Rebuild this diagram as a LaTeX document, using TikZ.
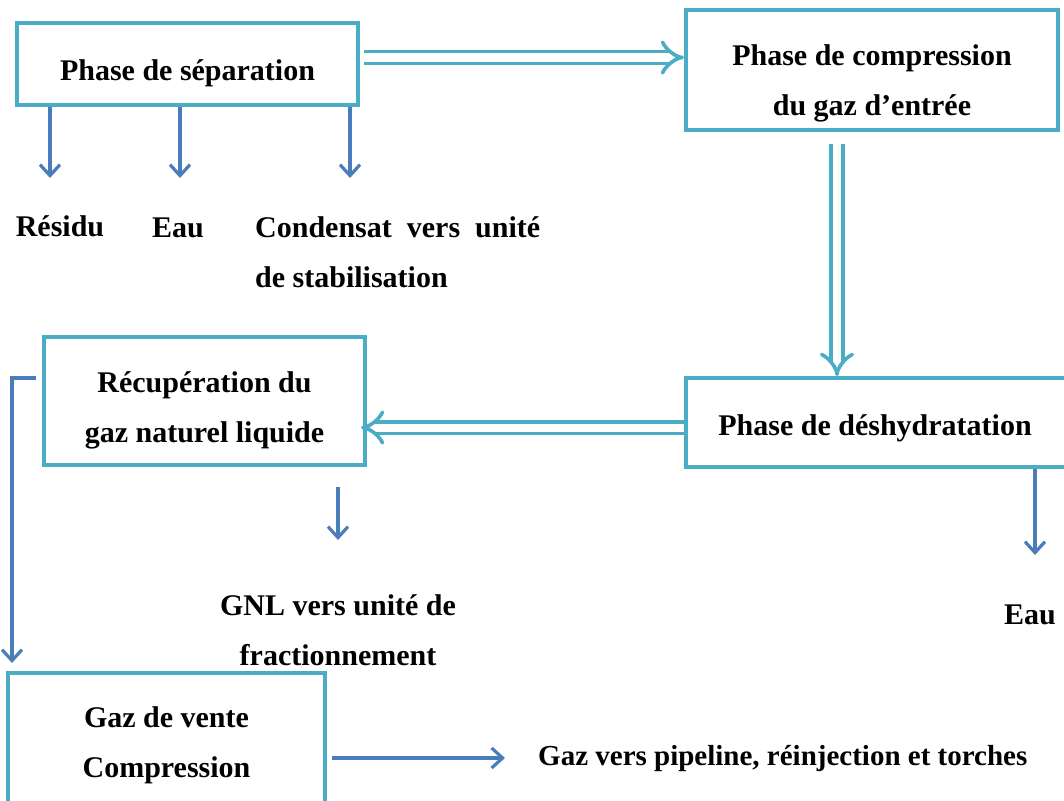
\documentclass[tikz,border=0pt]{standalone}
\usepackage{fontspec}
\setmainfont{Liberation Serif}
\usetikzlibrary{arrows.meta}
\definecolor{boxcol}{HTML}{4BACC6}
\definecolor{arrcol}{HTML}{4A7EBB}
\tikzset{
  x=1pt, y=-1pt,
  txt/.style={font=\bfseries\fontsize{30}{50}\selectfont, inner sep=0pt, align=center},
  procbox/.style={draw=boxcol, line width=4pt, fill=white},
  flow/.style={draw=boxcol, line width=3.6pt, double=white, double distance=8pt,
    -{Implies}},
  outarrow/.style={draw=arrcol, line width=3.2pt,
    -{Straight Barb[length=11pt, width=20pt, line width=3.2pt]}},
}
\begin{document}
\begin{tikzpicture}
\useasboundingbox (0,0) rectangle (1064,800);
% boxes
\node[procbox, minimum width=341pt, minimum height=82pt] (sep) at (187.5,64) {};
\node[txt] (sepT) at ([yshift=-9pt]sep.center) {Phase de séparation};
\node[procbox, minimum width=372pt, minimum height=120pt] (comp) at (872,70) {};
\node[txt] (compT) at ([yshift=-13pt]comp.center) {Phase de compression\\du gaz d'entrée};
\node[procbox, minimum width=384pt, minimum height=89pt] (desh) at (878,422.5) {};
\node[txt] (deshT) at ([xshift=-3pt,yshift=-6pt]desh.center) {Phase de déshydratation};
\node[procbox, minimum width=321pt, minimum height=128pt] (recup) at (204.5,401) {};
\node[txt] (recupT) at ([yshift=-9pt]recup.center) {Récupération du\\gaz naturel liquide};
\node[procbox, minimum width=317pt, minimum height=139pt] (vente) at (166.5,742.5) {};
\node[txt] (venteT) at ([yshift=-3pt]vente.center) {Gaz de vente\\Compression};
% labels
\node[txt] (residu) at (60,226) {Résidu};
\node[txt] (eau1) at (178,228) {Eau};
\node[txt, anchor=west, align=left] (cond) at (255,252) {Condensat\ \ vers\ \ unité\\de stabilisation};
\node[txt] (gnl) at (338,630) {GNL vers unité de\\fractionnement};
\node[txt] (eau2) at (1030,615) {Eau};
\node[txt, anchor=west, font=\bfseries\fontsize{29}{30}\selectfont] (pipe) at (538,758) {Gaz vers pipeline, réinjection et torches};
% free ends
\coordinate (r1) at (50,178);
\coordinate (e1) at (180,178);
\coordinate (c1) at (350,178);
\coordinate (g0) at (338,487);
\coordinate (g1) at (338,540);
\coordinate (w1) at (1035,555);
\coordinate (p1) at (505,758);
% double flow arrows
\draw[flow, shorten <=4pt] ([yshift=6.5pt]sep.east) -- ([yshift=6.5pt]sep.east -| comp.west);
\draw[flow, shorten <=12pt] ([xshift=-35pt]comp.south) -- ([xshift=-35pt]comp.south |- desh.north);
\draw[flow, shorten >=-6pt] ([yshift=-5pt]desh.west) -- ([yshift=-5pt]desh.west -| recup.east);
% single outputs
\draw[outarrow] (sep.south -| r1) -- (r1);
\draw[outarrow] (sep.south -| e1) -- (e1);
\draw[outarrow] (sep.south -| c1) -- (c1);
\draw[outarrow] (g0) -- (g1);
\draw[outarrow] (desh.south -| w1) -- (w1);
\draw[outarrow] ([xshift=-6pt,yshift=23pt]recup.west) -| ([xshift=6pt,yshift=8pt]vente.north west);
\draw[outarrow] ([xshift=5pt,yshift=-15.5pt]vente.east) -- (p1);
\end{tikzpicture}
\end{document}
